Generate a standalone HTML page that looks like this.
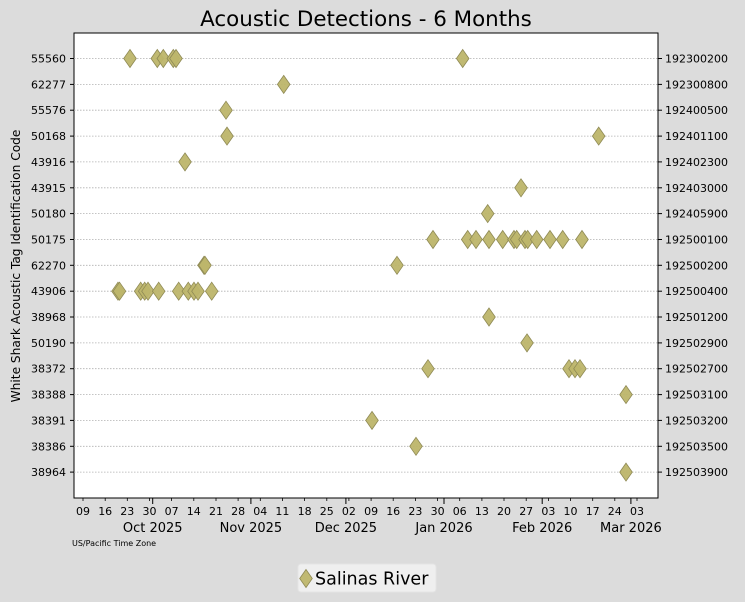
<!DOCTYPE html>
<html><head><meta charset="utf-8"><style>
html,body{margin:0;padding:0;background:#dcdcdc;}
svg{display:block;font-family:"DejaVu Sans","Liberation Sans",sans-serif;}
</style></head><body>
<svg width="745" height="602" viewBox="0 0 745 602" xmlns="http://www.w3.org/2000/svg">
<defs>
<path id="d" d="M0,-9 L6.3,0 L0,9 L-6.3,0Z" fill="#bdb56a" stroke="#8f8a55" stroke-width="0.8" fill-opacity="0.95"/>
</defs>
<rect width="745" height="602" fill="#dcdcdc"/>
<text x="366" y="26" font-size="21.4" text-anchor="middle" fill="#000">Acoustic Detections - 6 Months</text>
<rect x="74" y="33" width="584" height="465" fill="#fff" stroke="#000" stroke-width="1"/>
<g stroke="#b0b0b0" stroke-width="0.8" stroke-dasharray="1.5,1.5">
<line x1="74" x2="658" y1="58.5" y2="58.5"/><line x1="74" x2="658" y1="84.4" y2="84.4"/><line x1="74" x2="658" y1="110.2" y2="110.2"/><line x1="74" x2="658" y1="136.1" y2="136.1"/><line x1="74" x2="658" y1="161.9" y2="161.9"/><line x1="74" x2="658" y1="187.8" y2="187.8"/><line x1="74" x2="658" y1="213.6" y2="213.6"/><line x1="74" x2="658" y1="239.5" y2="239.5"/><line x1="74" x2="658" y1="265.3" y2="265.3"/><line x1="74" x2="658" y1="291.2" y2="291.2"/><line x1="74" x2="658" y1="317" y2="317"/><line x1="74" x2="658" y1="342.9" y2="342.9"/><line x1="74" x2="658" y1="368.7" y2="368.7"/><line x1="74" x2="658" y1="394.6" y2="394.6"/><line x1="74" x2="658" y1="420.4" y2="420.4"/><line x1="74" x2="658" y1="446.3" y2="446.3"/><line x1="74" x2="658" y1="472.1" y2="472.1"/>
</g>
<g stroke="#000" stroke-width="1">
<line x1="70" x2="74" y1="58.5" y2="58.5"/><line x1="70" x2="74" y1="84.4" y2="84.4"/><line x1="70" x2="74" y1="110.2" y2="110.2"/><line x1="70" x2="74" y1="136.1" y2="136.1"/><line x1="70" x2="74" y1="161.9" y2="161.9"/><line x1="70" x2="74" y1="187.8" y2="187.8"/><line x1="70" x2="74" y1="213.6" y2="213.6"/><line x1="70" x2="74" y1="239.5" y2="239.5"/><line x1="70" x2="74" y1="265.3" y2="265.3"/><line x1="70" x2="74" y1="291.2" y2="291.2"/><line x1="70" x2="74" y1="317" y2="317"/><line x1="70" x2="74" y1="342.9" y2="342.9"/><line x1="70" x2="74" y1="368.7" y2="368.7"/><line x1="70" x2="74" y1="394.6" y2="394.6"/><line x1="70" x2="74" y1="420.4" y2="420.4"/><line x1="70" x2="74" y1="446.3" y2="446.3"/><line x1="70" x2="74" y1="472.1" y2="472.1"/>
<line x1="658" x2="662" y1="58.5" y2="58.5"/><line x1="658" x2="662" y1="84.4" y2="84.4"/><line x1="658" x2="662" y1="110.2" y2="110.2"/><line x1="658" x2="662" y1="136.1" y2="136.1"/><line x1="658" x2="662" y1="161.9" y2="161.9"/><line x1="658" x2="662" y1="187.8" y2="187.8"/><line x1="658" x2="662" y1="213.6" y2="213.6"/><line x1="658" x2="662" y1="239.5" y2="239.5"/><line x1="658" x2="662" y1="265.3" y2="265.3"/><line x1="658" x2="662" y1="291.2" y2="291.2"/><line x1="658" x2="662" y1="317" y2="317"/><line x1="658" x2="662" y1="342.9" y2="342.9"/><line x1="658" x2="662" y1="368.7" y2="368.7"/><line x1="658" x2="662" y1="394.6" y2="394.6"/><line x1="658" x2="662" y1="420.4" y2="420.4"/><line x1="658" x2="662" y1="446.3" y2="446.3"/><line x1="658" x2="662" y1="472.1" y2="472.1"/>
</g>
<g stroke="#000" stroke-width="0.8">
<line x1="83" x2="83" y1="498" y2="501"/><line x1="105.2" x2="105.2" y1="498" y2="501"/><line x1="127.3" x2="127.3" y1="498" y2="501"/><line x1="149.5" x2="149.5" y1="498" y2="501"/><line x1="171.6" x2="171.6" y1="498" y2="501"/><line x1="193.8" x2="193.8" y1="498" y2="501"/><line x1="216" x2="216" y1="498" y2="501"/><line x1="238.1" x2="238.1" y1="498" y2="501"/><line x1="260.3" x2="260.3" y1="498" y2="501"/><line x1="282.4" x2="282.4" y1="498" y2="501"/><line x1="304.6" x2="304.6" y1="498" y2="501"/><line x1="326.8" x2="326.8" y1="498" y2="501"/><line x1="348.9" x2="348.9" y1="498" y2="501"/><line x1="371.1" x2="371.1" y1="498" y2="501"/><line x1="393.2" x2="393.2" y1="498" y2="501"/><line x1="415.4" x2="415.4" y1="498" y2="501"/><line x1="437.6" x2="437.6" y1="498" y2="501"/><line x1="459.7" x2="459.7" y1="498" y2="501"/><line x1="481.9" x2="481.9" y1="498" y2="501"/><line x1="504" x2="504" y1="498" y2="501"/><line x1="526.2" x2="526.2" y1="498" y2="501"/><line x1="548.4" x2="548.4" y1="498" y2="501"/><line x1="570.5" x2="570.5" y1="498" y2="501"/><line x1="592.7" x2="592.7" y1="498" y2="501"/><line x1="614.8" x2="614.8" y1="498" y2="501"/><line x1="637" x2="637" y1="498" y2="501"/>
</g>
<g stroke="#000" stroke-width="1">
<line x1="152.7" x2="152.7" y1="498" y2="504"/><line x1="250.9" x2="250.9" y1="498" y2="504"/><line x1="345.9" x2="345.9" y1="498" y2="504"/><line x1="444" x2="444" y1="498" y2="504"/><line x1="542.2" x2="542.2" y1="498" y2="504"/><line x1="630.9" x2="630.9" y1="498" y2="504"/>
</g>
<g font-size="11" fill="#000" text-anchor="middle">
<text x="83" y="515">09</text><text x="105.2" y="515">16</text><text x="127.3" y="515">23</text><text x="149.5" y="515">30</text><text x="171.6" y="515">07</text><text x="193.8" y="515">14</text><text x="216" y="515">21</text><text x="238.1" y="515">28</text><text x="260.3" y="515">04</text><text x="282.4" y="515">11</text><text x="304.6" y="515">18</text><text x="326.8" y="515">25</text><text x="348.9" y="515">02</text><text x="371.1" y="515">09</text><text x="393.2" y="515">16</text><text x="415.4" y="515">23</text><text x="437.6" y="515">30</text><text x="459.7" y="515">06</text><text x="481.9" y="515">13</text><text x="504" y="515">20</text><text x="526.2" y="515">27</text><text x="548.4" y="515">03</text><text x="570.5" y="515">10</text><text x="592.7" y="515">17</text><text x="614.8" y="515">24</text><text x="637" y="515">03</text>
</g>
<g font-size="13" fill="#000" text-anchor="middle">
<text x="152.7" y="532">Oct 2025</text><text x="250.9" y="532">Nov 2025</text><text x="345.9" y="532">Dec 2025</text><text x="444" y="532">Jan 2026</text><text x="542.2" y="532">Feb 2026</text><text x="630.9" y="532">Mar 2026</text>
</g>
<text x="72" y="546" font-size="8" fill="#000">US/Pacific Time Zone</text>
<g font-size="11" fill="#000" text-anchor="end">
<text x="66" y="62.5">55560</text><text x="66" y="88.4">62277</text><text x="66" y="114.2">55576</text><text x="66" y="140.1">50168</text><text x="66" y="165.9">43916</text><text x="66" y="191.8">43915</text><text x="66" y="217.6">50180</text><text x="66" y="243.5">50175</text><text x="66" y="269.3">62270</text><text x="66" y="295.2">43906</text><text x="66" y="321">38968</text><text x="66" y="346.9">50190</text><text x="66" y="372.7">38372</text><text x="66" y="398.6">38388</text><text x="66" y="424.4">38391</text><text x="66" y="450.3">38386</text><text x="66" y="476.1">38964</text>
</g>
<g font-size="11" fill="#000">
<text x="665" y="62.5">192300200</text><text x="665" y="88.4">192300800</text><text x="665" y="114.2">192400500</text><text x="665" y="140.1">192401100</text><text x="665" y="165.9">192402300</text><text x="665" y="191.8">192403000</text><text x="665" y="217.6">192405900</text><text x="665" y="243.5">192500100</text><text x="665" y="269.3">192500200</text><text x="665" y="295.2">192500400</text><text x="665" y="321">192501200</text><text x="665" y="346.9">192502900</text><text x="665" y="372.7">192502700</text><text x="665" y="398.6">192503100</text><text x="665" y="424.4">192503200</text><text x="665" y="450.3">192503500</text><text x="665" y="476.1">192503900</text>
</g>
<text transform="translate(20,266) rotate(-90)" font-size="12.2" text-anchor="middle" fill="#000">White Shark Acoustic Tag Identification Code</text>
<g>
<use href="#d" x="130" y="58.5"/><use href="#d" x="157.3" y="58.5"/><use href="#d" x="163.3" y="58.5"/><use href="#d" x="173.3" y="58.5"/><use href="#d" x="176" y="58.5"/><use href="#d" x="462.7" y="58.5"/>
<use href="#d" x="283.7" y="84.4"/>
<use href="#d" x="226" y="110.2"/>
<use href="#d" x="227" y="136.1"/><use href="#d" x="598.7" y="136.1"/>
<use href="#d" x="185" y="161.9"/>
<use href="#d" x="521" y="187.8"/>
<use href="#d" x="487.7" y="213.6"/>
<use href="#d" x="433" y="239.5"/><use href="#d" x="467.7" y="239.5"/><use href="#d" x="476" y="239.5"/><use href="#d" x="489" y="239.5"/><use href="#d" x="502.7" y="239.5"/><use href="#d" x="514" y="239.5"/><use href="#d" x="516.7" y="239.5"/><use href="#d" x="525" y="239.5"/><use href="#d" x="527.7" y="239.5"/><use href="#d" x="536.7" y="239.5"/><use href="#d" x="550" y="239.5"/><use href="#d" x="562.7" y="239.5"/><use href="#d" x="582" y="239.5"/>
<use href="#d" x="204" y="265.3"/><use href="#d" x="205" y="265.3"/><use href="#d" x="397" y="265.3"/>
<use href="#d" x="118" y="291.2"/><use href="#d" x="119.5" y="291.2"/><use href="#d" x="140.7" y="291.2"/><use href="#d" x="144.7" y="291.2"/><use href="#d" x="148" y="291.2"/><use href="#d" x="158.7" y="291.2"/><use href="#d" x="178.7" y="291.2"/><use href="#d" x="188.3" y="291.2"/><use href="#d" x="194" y="291.2"/><use href="#d" x="198" y="291.2"/><use href="#d" x="211.7" y="291.2"/>
<use href="#d" x="489" y="317"/>
<use href="#d" x="527" y="342.9"/>
<use href="#d" x="428" y="368.7"/><use href="#d" x="569" y="368.7"/><use href="#d" x="575" y="368.7"/><use href="#d" x="580" y="368.7"/>
<use href="#d" x="626" y="394.6"/>
<use href="#d" x="372" y="420.4"/>
<use href="#d" x="416" y="446.3"/>
<use href="#d" x="626" y="472.1"/>
</g>
<rect x="298" y="564" width="138" height="28" rx="3" fill="#efefef" stroke="#e4e4e4"/>
<use href="#d" x="306" y="578.5"/>
<text x="315" y="584.5" font-size="17.5" fill="#000">Salinas River</text>
</svg>
</body></html>
